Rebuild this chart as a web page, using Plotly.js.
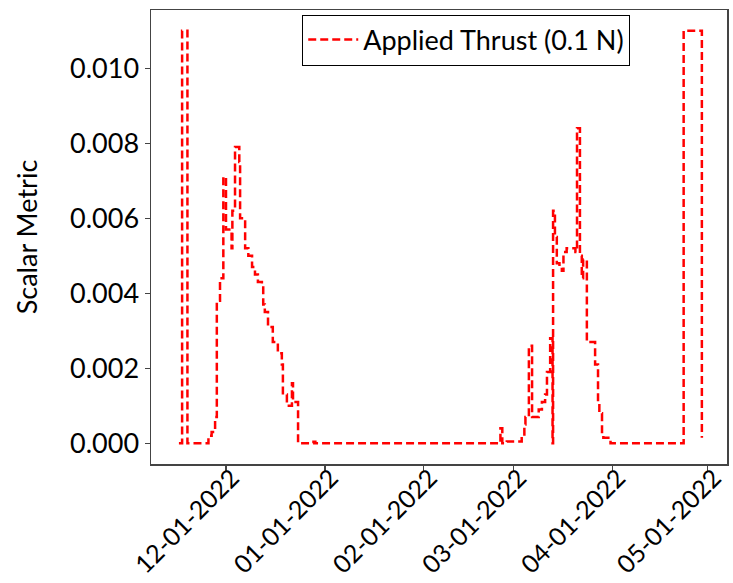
<!DOCTYPE html>
<html>
<head>
<meta charset="utf-8">
<script src="https://cdn.plot.ly/plotly-3.0.1.min.js"></script>
<style>html,body{margin:0;padding:0;background:#fff;}#chart{width:733px;height:583px;}</style>
</head>
<body>
<div id="chart"></div>
<script>
// Applied thrust series (timestamps and values)
const thrustDates = [
  '2021-11-16 06:00','2021-11-17 06:00','2021-11-18 22:00','2021-11-25 12:00','2021-11-26 12:00',
  '2021-11-27 14:00','2021-11-28 03:00','2021-11-29 03:00','2021-11-30 04:00','2021-12-01 00:00',
  '2021-12-02 18:00','2021-12-03 00:00','2021-12-03 20:00','2021-12-05 04:00','2021-12-05 10:00',
  '2021-12-07 00:00','2021-12-08 00:00','2021-12-09 04:00','2021-12-10 02:00','2021-12-11 00:00',
  '2021-12-12 06:00','2021-12-12 16:00','2021-12-13 04:00','2021-12-14 04:00','2021-12-15 16:00',
  '2021-12-17 06:00','2021-12-18 12:00','2021-12-18 20:00','2021-12-20 02:00','2021-12-21 16:00',
  '2021-12-22 00:00','2021-12-23 14:00','2021-12-28 10:00','2021-12-29 00:00','2022-02-25 00:00',
  '2022-02-25 14:00','2022-02-27 00:00','2022-03-03 16:00','2022-03-04 12:00','2022-03-04 20:00',
  '2022-03-05 22:00','2022-03-06 22:00','2022-03-09 00:00','2022-03-10 00:00','2022-03-11 00:00',
  '2022-03-11 14:00','2022-03-12 14:00','2022-03-13 08:00','2022-03-13 12:00','2022-03-14 02:00',
  '2022-03-14 16:00','2022-03-15 12:00','2022-03-16 06:00','2022-03-16 18:00','2022-03-17 18:00',
  '2022-03-20 12:00','2022-03-21 00:00','2022-03-21 22:00','2022-03-22 12:00','2022-03-22 22:00',
  '2022-03-24 02:00','2022-03-26 16:00','2022-03-27 14:00','2022-03-28 00:00','2022-03-28 20:00',
  '2022-03-29 06:00','2022-03-31 12:00','2022-04-23 10:00','2022-04-29 03:00'
];
const thrustValues = [
  0, 0.011, 0, 0.0002, 0.0003,
  0.0007, 0.0038, 0.0044, 0.0071, 0.0057,
  0.0052, 0.0062, 0.0079, 0.0075, 0.0060,
  0.0052, 0.0050, 0.0047, 0.0045, 0.0043,
  0.0042, 0.0037, 0.0035, 0.0031, 0.0027,
  0.0024, 0.0021, 0.0013, 0.0010, 0.0016,
  0.0011, 0, 0.00004, 0, 0.0004,
  0, 0.00005, 0.0002, 0.0005, 0.0007,
  0.0026, 0.0007, 0.0009, 0.0011, 0.0013,
  0.0019, 0.0028, 0, 0.0062, 0.0055,
  0.0048, 0.0047, 0.0046, 0.0051, 0.0052,
  0.0051, 0.0084, 0.0050, 0.0044, 0.0049,
  0.0027, 0.0021, 0.0011, 0.0008, 0.0002,
  0.00015, 0, 0.011, 0.00015
];
const tickDates = ['2021-12-01','2022-01-01','2022-02-01','2022-03-01','2022-04-01','2022-05-01'];
const tickLabels = ['12-01-2022','01-01-2022','02-01-2022','03-01-2022','04-01-2022','05-01-2022'];
const yTicks = [0, 0.002, 0.004, 0.006, 0.008, 0.010];
const seriesName = 'Applied Thrust (0.1 N)';

const FONT = 'Lato, "Open Sans", sans-serif';
const FS = 27;
const trace = {
  x: thrustDates, y: thrustValues, type: 'scatter', mode: 'lines', name: seriesName,
  line: {color: '#ff0000', width: 2.5, dash: '8px,4px', shape: 'hv'}
};
const layout = {
  width: 733, height: 583,
  margin: {l: 151, r: 6, t: 10, b: 119},
  paper_bgcolor: '#fff', plot_bgcolor: '#fff',
  font: {family: FONT, size: FS, color: '#000'},
  showlegend: true,
  legend: {x: 0.832, y: 0.99, xanchor: 'right', yanchor: 'top', bordercolor: '#000', borderwidth: 1,
           bgcolor: '#fff', itemwidth: 50, font: {family: FONT, size: FS, color: '#000'}},
  xaxis: {
    type: 'date', range: ['2021-11-07 12:00', '2022-05-07 00:00'],
    tickmode: 'array', tickvals: tickDates, ticktext: tickLabels, tickangle: -45,
    ticklabelstandoff: -17, ticklabelshift: 6, ticklabeloverflow: 'allow',
    showgrid: false, zeroline: false, showline: true, mirror: true, linecolor: '#444', linewidth: 1.5,
    ticks: 'outside', ticklen: 5, tickcolor: '#444', tickwidth: 1.2,
    tickfont: {family: FONT, size: 25, color: '#000'}
  },
  yaxis: {
    range: [-0.00055, 0.01155], tickmode: 'array', tickvals: yTicks, tickformat: '.3f',
    showgrid: false, zeroline: false, showline: true, mirror: true, linecolor: '#444', linewidth: 1.5,
    ticks: 'outside', ticklen: 5, tickcolor: '#444', tickwidth: 1.2,
    tickfont: {family: FONT, size: FS, color: '#000'},
    title: {text: 'Scalar Metric', font: {family: FONT, size: FS, color: '#000'}, standoff: 24}
  }
};
Plotly.newPlot('chart', [trace], layout, {displayModeBar: false, staticPlot: true});
</script>
</body>
</html>
